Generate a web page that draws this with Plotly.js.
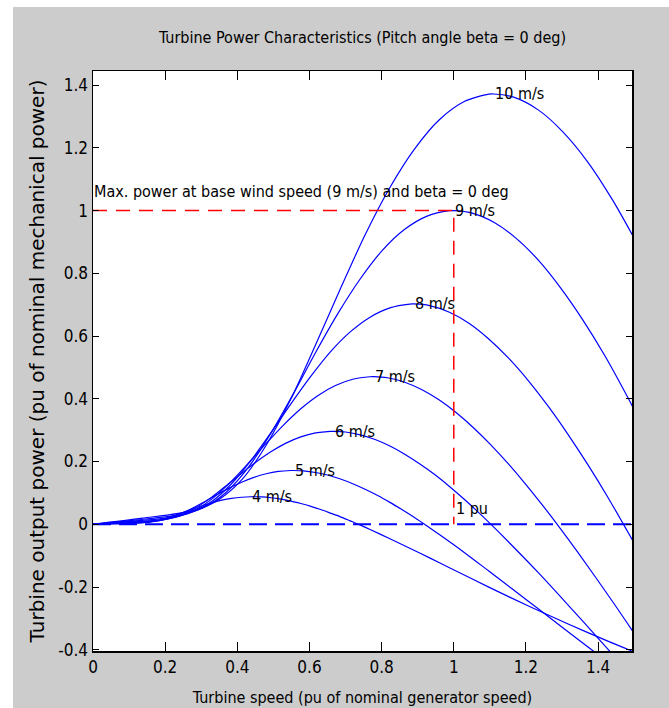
<!DOCTYPE html>
<html><head><meta charset="utf-8">
<script src="https://cdn.plot.ly/plotly-3.0.1.min.js"></script>
<style>
html,body{margin:0;padding:0;background:#ffffff;width:669px;height:708px;overflow:hidden}
#plot{position:absolute;left:13px;top:7px;width:656px;height:701px}
</style>
</head><body><div id="plot"></div>
<script>
// Wind speed labels for each curve
const windSpeeds = ['4 m/s','5 m/s','6 m/s','7 m/s','8 m/s','9 m/s','10 m/s'];

// Turbine speed (pu) and output power (pu), one pair per wind speed
const x4 = [0,0.055,0.110,0.137,0.165,0.192,0.219,0.247,0.274,0.302,0.329,0.357,0.384,0.412,0.439,0.444,0.466,0.494,0.521,0.549,0.576,0.604,0.631,0.658,0.686,0.713,0.741,0.768,0.823,0.878,0.933,0.988,1.097,1.207,1.317,1.427,1.536];
const y4 = [0,0.0012,0.0027,0.0048,0.0091,0.0161,0.0256,0.0366,0.0481,0.0590,0.0687,0.0767,0.0825,0.0862,0.0878,0.0878,0.0871,0.0845,0.0800,0.0739,0.0662,0.0572,0.0470,0.0357,0.0237,0.0108,-0.0027,-0.0167,-0.0459,-0.0763,-0.1072,-0.1384,-0.2004,-0.2605,-0.3180,-0.3725,-0.4237];

const x5 = [0,0.069,0.137,0.171,0.206,0.240,0.274,0.309,0.343,0.377,0.412,0.446,0.480,0.514,0.549,0.556,0.583,0.617,0.652,0.686,0.720,0.754,0.789,0.823,0.857,0.892,0.926,0.960,1.029,1.097,1.166,1.235,1.372,1.509];
const y5 = [0,0.0024,0.0054,0.0093,0.0177,0.0315,0.0501,0.0716,0.0939,0.1153,0.1342,0.1497,0.1612,0.1684,0.1714,0.1715,0.1702,0.1650,0.1563,0.1443,0.1292,0.1116,0.0917,0.0698,0.0462,0.0211,-0.0053,-0.0326,-0.0897,-0.1490,-0.2094,-0.2704,-0.3913,-0.5088];

const x6 = [0,0.082,0.165,0.206,0.247,0.288,0.329,0.370,0.412,0.453,0.494,0.535,0.576,0.617,0.658,0.667,0.700,0.741,0.782,0.823,0.864,0.905,0.947,0.988,1.029,1.070,1.111,1.152,1.235,1.317,1.399,1.481];
const y6 = [0,0.0042,0.0093,0.0161,0.0306,0.0544,0.0865,0.1236,0.1623,0.1992,0.2319,0.2587,0.2786,0.2911,0.2962,0.2963,0.2941,0.2852,0.2701,0.2493,0.2233,0.1929,0.1585,0.1206,0.0798,0.0364,-0.0091,-0.0564,-0.1550,-0.2575,-0.3619,-0.4672];

const x7 = [0,0.096,0.192,0.240,0.288,0.336,0.384,0.432,0.480,0.528,0.576,0.624,0.672,0.720,0.768,0.778,0.816,0.864,0.912,0.960,1.008,1.056,1.104,1.152,1.200,1.248,1.296,1.344,1.440,1.536];
const y7 = [0,0.0067,0.0147,0.0256,0.0485,0.0865,0.1374,0.1963,0.2577,0.3163,0.3683,0.4108,0.4424,0.4622,0.4703,0.4705,0.4670,0.4529,0.4289,0.3958,0.3547,0.3063,0.2516,0.1915,0.1267,0.0578,-0.0144,-0.0895,-0.2461,-0.4089];

const x8 = [0,0.110,0.219,0.274,0.329,0.384,0.439,0.494,0.549,0.604,0.658,0.713,0.768,0.823,0.878,0.889,0.933,0.988,1.043,1.097,1.152,1.207,1.262,1.317,1.372,1.427,1.481,1.536];
const y8 = [0,0.0100,0.0220,0.0382,0.0724,0.1291,0.2051,0.2931,0.3847,0.4722,0.5497,0.6132,0.6603,0.6899,0.7020,0.7023,0.6971,0.6760,0.6402,0.5908,0.5294,0.4573,0.3756,0.2859,0.1892,0.0863,-0.0215,-0.1336];

const x9 = [0,0.123,0.247,0.309,0.370,0.432,0.494,0.556,0.617,0.679,0.741,0.802,0.864,0.926,0.988,1.000,1.049,1.111,1.173,1.235,1.296,1.358,1.420,1.481,1.543];
const y9 = [0,0.0142,0.0313,0.0544,0.1031,0.1838,0.2921,0.4173,0.5477,0.6723,0.7827,0.8731,0.9402,0.9823,0.9996,1.0000,0.9925,0.9625,0.9115,0.8413,0.7538,0.6510,0.5348,0.4071,0.2694];

const x10 = [0,0.137,0.274,0.343,0.412,0.480,0.549,0.617,0.686,0.754,0.823,0.892,0.960,1.029,1.097,1.111,1.166,1.235,1.303,1.372,1.440,1.509];
const y10 = [0,0.0194,0.0429,0.0746,0.1415,0.2521,0.4007,0.5724,0.7513,0.9222,1.0737,1.1977,1.2897,1.3475,1.3712,1.3717,1.3615,1.3203,1.2503,1.1540,1.0340,0.8931];

// Reference lines: max power at base wind speed, and the zero-power line
const maxPowerX = [0, 1, 1];
const maxPowerY = [1, 1, 0];
const zeroX = [0, 1.5];
const zeroY = [0, 0];

// Tick labels
const xTickVals = [0,0.2,0.4,0.6,0.8,1,1.2,1.4];
const xTickText = ['0','0.2','0.4','0.6','0.8','1','1.2','1.4'];
const yTickVals = [-0.4,-0.2,0,0.2,0.4,0.6,0.8,1,1.2,1.4];
const yTickText = ['-0.4','-0.2','0','0.2','0.4','0.6','0.8','1','1.2','1.4'];

const curveX = [x4,x5,x6,x7,x8,x9,x10];
const curveY = [y4,y5,y6,y7,y8,y9,y10];

const NARROW = '"DejaVu Sans Condensed", "Liberation Sans Narrow", sans-serif';
const BLUE = '#0000ff';

const traces = [];
curveX.forEach((xs, i) => {
  traces.push({x: xs, y: curveY[i], type: 'scatter', mode: 'lines', name: windSpeeds[i],
    line: {color: BLUE, width: 1.2, shape: 'spline', smoothing: 0.8}, hoverinfo: 'skip'});
});
traces.push({x: maxPowerX, y: maxPowerY, type: 'scatter', mode: 'lines',
  line: {color: '#ff0000', width: 1.5, dash: '14px,9px'}, hoverinfo: 'skip'});
traces.push({x: zeroX, y: zeroY, type: 'scatter', mode: 'lines',
  line: {color: BLUE, width: 2, dash: '18px,8px'}, hoverinfo: 'skip'});

const annFont = {family: NARROW, size: 16, color: '#000000'};
const annotations = [];
curveX.forEach((xs, i) => {
  const ys = curveY[i];
  let k = 0;
  ys.forEach((v, j) => { if (v > ys[k]) k = j; });
  annotations.push({x: xs[k], y: ys[k], xref: 'x', yref: 'y', text: windSpeeds[i],
    showarrow: false, xanchor: 'left', yanchor: 'middle', font: annFont, borderpad: 0});
});
annotations.push({x: maxPowerX[0], y: 1.062, xref: 'x', yref: 'y',
  text: 'Max. power at base wind speed (9 m/s) and beta = 0 deg',
  showarrow: false, xanchor: 'left', yanchor: 'middle', font: annFont, borderpad: 0});
annotations.push({x: maxPowerX[1], y: 0.05, xref: 'x', yref: 'y', text: '1 pu',
  showarrow: false, xanchor: 'left', yanchor: 'middle', font: annFont, borderpad: 1});

const axisCommon = {
  showline: true, linecolor: '#000000', linewidth: 1.5, mirror: 'ticks',
  ticks: 'inside', tickcolor: '#000000', tickwidth: 1,
  showgrid: false, zeroline: false, tickmode: 'array',
  tickfont: {family: NARROW, size: 17, color: '#000000'}
};

const layout = {
  width: 656, height: 701,
  margin: {l: 80, r: 37, t: 64, b: 57, pad: 0},
  paper_bgcolor: '#cccccc', plot_bgcolor: '#ffffff',
  showlegend: false,
  title: {text: 'Turbine Power Characteristics (Pitch angle beta = 0 deg)',
    font: {family: NARROW, size: 16, color: '#000000'},
    xref: 'paper', x: 0.5, xanchor: 'center', yref: 'container', y: 0.956, yanchor: 'middle'},
  xaxis: Object.assign({}, axisCommon, {
    range: [0, 1.494], tickvals: xTickVals, ticktext: xTickText, ticklen: 9,
    title: {text: 'Turbine speed (pu of nominal generator speed)',
      font: {family: NARROW, size: 16, color: '#000000'}, standoff: 16}
  }),
  yaxis: Object.assign({}, axisCommon, {
    range: [-0.404, 1.445], tickvals: yTickVals, ticktext: yTickText, ticklen: 6,
    title: {text: 'Turbine output power (pu of nominal mechanical power)',
      font: {family: '"DejaVu Sans", sans-serif', size: 20, color: '#000000'}, standoff: 8}
  }),
  annotations: annotations
};

Plotly.newPlot('plot', traces, layout, {staticPlot: true, displayModeBar: false});
</script>
</body></html>
